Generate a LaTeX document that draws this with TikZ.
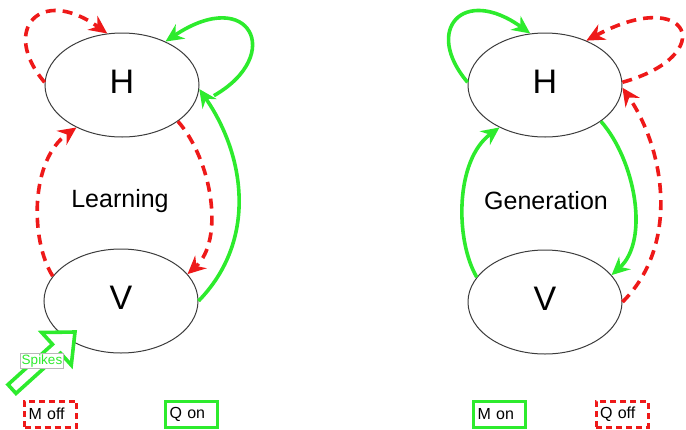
\documentclass[tikz,border=0pt]{standalone}
\usepackage{fontspec}
\setmainfont{Liberation Sans}
\usetikzlibrary{shapes.geometric,arrows.meta}
\definecolor{sgreen}{RGB}{45,235,45}
\definecolor{sred}{RGB}{238,25,25}
\definecolor{ellgray}{RGB}{60,60,60}
\tikzset{
  layer/.style={ellipse, draw=ellgray, line width=1pt, minimum width=154pt,
    minimum height=104pt, inner sep=0pt, font=\fontsize{34}{34}\selectfont,
    text height=24.4pt, text depth=8pt},
  tipshape/.style={-{Stealth[length=18pt,width=17pt,inset=6pt]}},
  onlink/.style={draw=sgreen, line width=3.6pt, tipshape},
  offlink/.style={draw=sred, line width=3.6pt, dash pattern=on 10pt off 7pt, tipshape},
  modebox/.style={line width=3pt, text width=44pt, align=left, inner xsep=4pt,
    inner ysep=0pt, minimum height=26pt, font=\fontsize{16}{16}\selectfont},
  onbox/.style={modebox, draw=sgreen},
  offbox/.style={modebox, draw=sred, dash pattern=on 6pt off 4pt},
  phase/.style={font=\fontsize{25}{25}\selectfont},
}
\begin{document}
\begin{tikzpicture}[x=1pt,y=-1pt]
\useasboundingbox (0,0) rectangle (686,429);

% the two layers, learning phase and generation phase
\node[layer] (LH) at (122,85) {H};
\node[layer] (LV) at (121,301) {V};
\node[layer] (RH) at (545,85) {H};
\node[layer] (RV) at (545,302) {V};

\node[phase] (learn) at (120,201) {Learning};
\node[phase] (gen) at (546,201) {Generation};

% learning: recognition on, generation off
\draw[offlink] (LH.178) .. controls (0,30) and (40,-15) .. (LH.106);
\draw[onlink] ([xshift=16pt]LH.-8) .. controls (285,55) and (250,-15) .. (LH.45);
\draw[onlink] (LV.0) .. controls (258,240) and (245,155) .. (LH.-3);
\draw[offlink] (LH.-33) .. controls (212,160) and (225,240) .. (LV.22);
\draw[offlink] (LV.160) .. controls (30,240) and (30,160) .. (LH.-137);

% generation: generative pathway on, recognition off
\draw[onlink] (RH.178) .. controls (423,30) and (463,-15) .. (RH.106);
\draw[offlink] (RH.2) .. controls (720,55) and (690,-15) .. (RH.47);
\draw[offlink] (RV.0) .. controls (680,245) and (665,150) .. (RH.-2);
\draw[onlink] (RH.-33) .. controls (635,160) and (650,240) .. (RV.22);
\draw[onlink] (RV.160) .. controls (455,240) and (455,160) .. (RH.-137);

% input spikes arrow into V
\draw[draw=sgreen, fill=white, line width=3.6pt, line join=miter]
  (8,384.6) -- (52.5,344.3) -- (41.7,332.5) -- (75,332) -- (71.3,365.1)
  -- (60.5,353.2) -- (16,393.4) -- cycle;
\node[draw=gray!55, line width=0.6pt, fill=white, text=sgreen, inner sep=1.5pt,
  font=\fontsize{13.5}{13.5}\selectfont] (spk) at (42,361) {Spikes};

% mode indicators
\node[offbox] (moff) at (50.5,414) {M off};
\node[onbox] (qon) at (191.5,414) {Q on};
\node[onbox] (mon) at (499.5,414) {M on};
\node[offbox] (qoff) at (622,414) {Q off};
\end{tikzpicture}
\end{document}
